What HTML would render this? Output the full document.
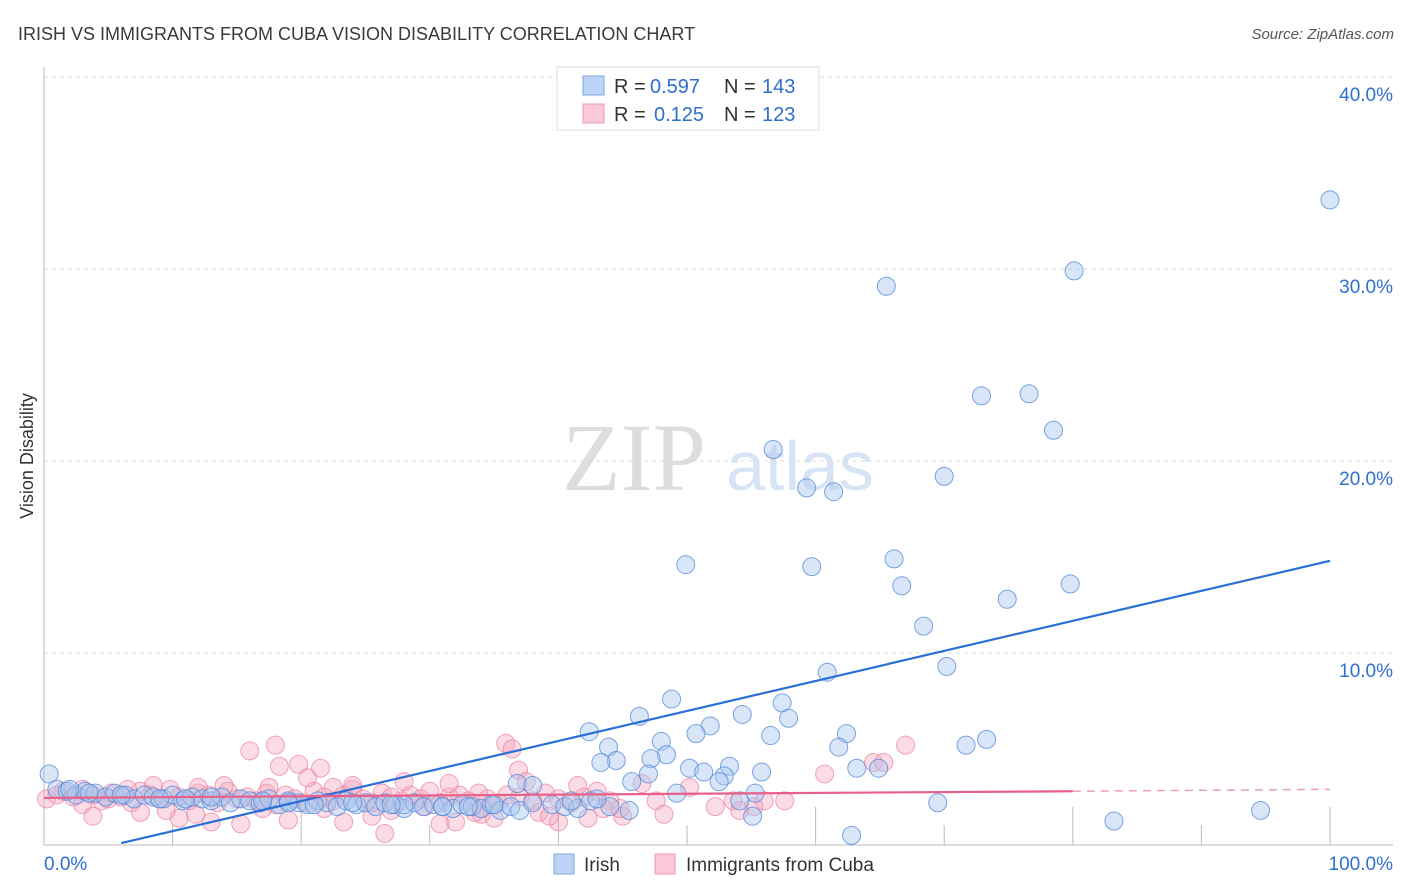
<!DOCTYPE html>
<html><head><meta charset="utf-8"><style>
body{margin:0;background:#fff;font-family:"Liberation Sans",sans-serif;}
svg{display:block}
</style></head><body>
<svg id="c" width="1406" height="892">
<text x="18" y="40" font-size="18" fill="#3a3a3a">IRISH VS IMMIGRANTS FROM CUBA VISION DISABILITY CORRELATION CHART</text>
<text x="1394" y="39" font-size="15" fill="#555" text-anchor="end" font-style="italic">Source: ZipAtlas.com</text>
<text x="33" y="456" font-size="18" fill="#333" transform="rotate(-90 33 456)" text-anchor="middle">Vision Disability</text>
<g><text x="634" y="490" font-size="96" fill="#ddd" font-family="Liberation Serif,serif" text-anchor="middle">ZIP</text><text x="800" y="490" font-size="70" fill="#d6e4f5" text-anchor="middle">atlas</text></g>
<g id="grid"></g><g id="pts"></g><g id="lines"></g>
<g>
<rect x="557" y="67" width="262" height="63" fill="#fff" stroke="#ddd"/>
<rect x="583" y="76" width="21" height="19" fill="#bcd4f5" stroke="#7aa6e0"/>
<rect x="583" y="104" width="21" height="19" fill="#fbc8d7" stroke="#eb9ab3"/>
<text y="93" font-size="20" fill="#333"><tspan x="614">R =</tspan><tspan x="650" fill="#2f6fd0">0.597</tspan><tspan x="724">N =</tspan><tspan x="762" fill="#2f6fd0">143</tspan></text>
<text y="121" font-size="20" fill="#333"><tspan x="614">R =</tspan><tspan x="654" fill="#2f6fd0">0.125</tspan><tspan x="724">N =</tspan><tspan x="762" fill="#2f6fd0">123</tspan></text>
</g>
<g>
<rect x="554" y="854" width="20" height="20" fill="#bcd4f5" stroke="#7aa6e0"/>
<text x="584" y="871" font-size="19" fill="#333">Irish</text>
<rect x="655" y="854" width="20" height="20" fill="#fbc8d7" stroke="#eb9ab3"/>
<text x="686" y="871" font-size="19" fill="#333">Immigrants from Cuba</text>
</g>
</svg>
<script>
const yTicks=[10,20,30,40];
const yTickLabels=["10.0%","20.0%","30.0%","40.0%"];
const xLabels=["0.0%","100.0%"];
const irishX=[100,80.1,65.5,72.9,76.6,78.5,56.7,70,59.3,61.4,66.1,49.9,59.7,79.8,66.7,74.9,68.4,70.2,60.9,48.8,57.4,54.3,57.9,46.3,51.8,50.7,42.4,56.5,62.4,73.3,71.7,61.8,48,43.9,48.4,47.2,44.5,43.3,53.3,50.2,63.2,64.9,51.3,55.8,52.9,47,45.7,52.5,36.8,38,55.3,49.2,69.5,54.1,45.5,55.1,83.2,94.6,62.8,0.4,
1,1.8,2.5,3.2,4,4.8,5.5,6.3,7,7.8,8.5,9.3,10,10.8,11.5,12.3,13,13.8,14.5,15.3,16,16.8,17.5,18.3,19,19.8,20.5,21.3,22,22.8,23.5,24.3,25,25.8,26.5,27.3,28,28.8,29.5,30.3,31,31.8,32.5,33.3,34,34.8,35.5,36.3,37,38,39.5,40.5,41.5,42.5,44,2,6,9,13,17,21,24,28,31,35,3.5,11,19,27,33,41,43];
const irishY=[33.6,29.9,29.1,23.4,23.5,21.6,20.6,19.2,18.6,18.4,14.9,14.6,14.5,13.6,13.5,12.8,11.4,9.3,9,7.6,7.4,6.8,6.6,6.7,6.2,5.8,5.9,5.7,5.8,5.5,5.2,5.1,5.4,5.1,4.7,4.5,4.4,4.3,4.1,4,4,4,3.8,3.8,3.6,3.7,3.3,3.3,3.2,3.1,2.7,2.7,2.2,2.3,1.8,1.5,1.25,1.8,0.5,3.7,
2.9,2.8,2.6,2.8,2.7,2.5,2.7,2.6,2.4,2.6,2.5,2.4,2.6,2.3,2.5,2.4,2.3,2.5,2.2,2.4,2.3,2.2,2.4,2.1,2.3,2.2,2.1,2.3,2.2,2,2.3,2.1,2.2,2,2.2,2.1,1.9,2.2,2,2.1,2,1.9,2.1,2,1.9,2.1,1.8,2,1.8,2.2,2.1,2,1.9,2.3,2,2.9,2.6,2.4,2.5,2.3,2.1,2.2,2.1,2,2.1,2.7,2.4,2.2,2.1,2,2.3,2.4];
const cubaX=[0.2,1,1.5,2.3,3,3.8,4.5,5.2,6,6.8,7.5,8.3,9,9.8,10.5,11.3,12,12.8,13.5,14.3,15,15.8,16.5,17.3,18,18.8,19.5,20.3,21,21.8,22.5,23.3,24,24.8,25.5,26.3,27,27.8,28.5,29.3,30,30.8,31.5,32.3,33,33.8,34.5,35.3,36,37,38,39,40,41,42,43,44,
16,18,18.3,19.8,21.5,35.9,36.4,36.9,67,64.5,65.3,60.7,57.6,50.2,46.5,41.5,37.5,31.5,28,24,22.5,20.5,17.5,14,12,8.5,6.5,5,3,10.5,13,15.3,17,23.3,25.5,26.5,30.8,32,34,35,38.5,40,42.3,43.5,45,47.6,48.2,52.2,53.6,54.1,55.2,56,3.8,7.5,9.5,11.8,19,21.8,27,29.6,33.5,39.3,44.8];
const cubaY=[2.4,2.6,2.8,2.5,2.9,2.6,2.3,2.7,2.5,2.2,2.8,2.6,2.4,2.9,2.5,2.3,2.7,2.6,2.2,2.8,2.4,2.5,2.3,2.7,2.1,2.6,2.4,2.2,2.8,2.5,2.3,2.6,2.9,2.4,2.2,2.7,2.5,2.3,2.6,2.4,2.8,2.2,2.5,2.6,2.3,2.7,2.4,2.2,2.6,2.5,2.3,2.7,2.4,2.2,2.5,2.8,2.3,
4.9,5.2,4.1,4.2,4,5.3,5,3.9,5.2,4.3,4.3,3.7,2.3,3,3.2,3.1,3.3,3.2,3.3,3.1,3,3.5,3,3.1,3,3.1,2.9,2.4,2.1,1.4,1.2,1.1,1.9,1.2,1.5,0.6,1.1,1.2,1.6,1.4,1.7,1.2,1.4,1.9,1.5,2.3,1.6,2,2.3,1.8,2,2.3,1.5,1.7,1.8,1.6,1.3,1.9,1.8,2,1.7,1.5,1.9];
const X0=44,X1=1330,Y0=845,YS=19.2;
const sx=v=>X0+(X1-X0)*v/100, sy=v=>Y0-v*YS;
const NS="http://www.w3.org/2000/svg";
function mk(t,a,p){const e=document.createElementNS(NS,t);for(const k in a)e.setAttribute(k,a[k]);p.appendChild(e);return e;}
const grid=document.getElementById('grid');
yTicks.forEach((t,i)=>{
 const l=mk('line',{x1:44,x2:1393,y1:sy(t),y2:sy(t),stroke:'#ddd','stroke-dasharray':'4,4'},grid);
 
 
 const tx=mk('text',{x:1393,y:sy(t)+24,'font-size':19,fill:'#2f6fd0','text-anchor':'end'},grid);tx.textContent=yTickLabels[i];
 
 
});
const ax=mk('line',{x1:44,x2:44,y1:67,y2:Y0,stroke:'#bbb'},grid);


const bx=mk('line',{x1:44,x2:1393,y1:Y0,y2:Y0,stroke:'#bbb'},grid);


for(let i=1;i<=10;i++){const t=mk('line',{x1:sx(i*10),x2:sx(i*10),y1:i%2?Y0-20:Y0-38,y2:Y0,stroke:'#bbb'},grid);
 
 }
const xl0=mk('text',{x:44,y:870,'font-size':19,fill:'#2f6fd0'},grid);xl0.textContent=xLabels[0];


const xl1=mk('text',{x:1393,y:870,'font-size':19,fill:'#2f6fd0','text-anchor':'end'},grid);xl1.textContent=xLabels[1];


const pts=document.getElementById('pts');
cubaX.forEach((x,i)=>{const c=mk('circle',{cx:sx(x),cy:sy(cubaY[i]),r:9,fill:'rgba(244,166,191,0.4)',stroke:'rgba(232,127,160,0.7)'},pts);
 
 });
irishX.forEach((x,i)=>{const c=mk('circle',{cx:sx(x),cy:sy(irishY[i]),r:9,fill:'rgba(168,200,240,0.45)',stroke:'rgba(80,135,215,0.75)'},pts);
 
 });
const ln=document.getElementById('lines');
const bl=mk('line',{x1:sx(6),y1:sy(0.1),x2:sx(100),y2:sy(14.8),stroke:'#2a6fd6','stroke-width':2.2},ln);


const pl=mk('line',{x1:sx(0),y1:sy(2.45),x2:sx(80),y2:sy(2.8),stroke:'#e8608a','stroke-width':2.2},ln);


const pd=mk('line',{x1:sx(80),y1:sy(2.8),x2:sx(100),y2:sy(2.9),stroke:'#e8a0b6','stroke-width':1.5,'stroke-dasharray':'8,6'},ln);


</script>
</body></html>
